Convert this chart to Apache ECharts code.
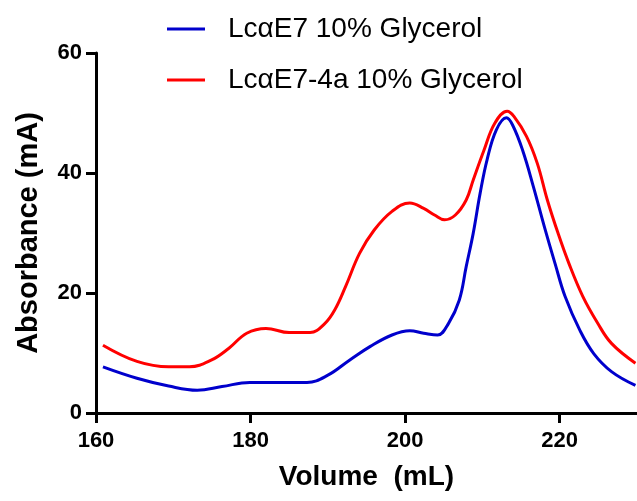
<!DOCTYPE html>
<html>
<head>
<meta charset="utf-8">
<script src="https://cdn.jsdelivr.net/npm/echarts@6/dist/echarts.min.js"></script>
<style>
  html, body { margin: 0; padding: 0; background: #fff; }
  #chart { width: 637px; height: 501px; }
</style>
</head>
<body>
<div id="chart"></div>
<script>
// Elution profiles (absorbance vs. elution volume)
const seriesNames = ['Lc\u03b1E7 10% Glycerol', 'Lc\u03b1E7-4a 10% Glycerol'];

const volumeE7 = [160.9, 165.3, 169.4, 173.1, 176.3, 179.9, 183.6, 187.3, 190.0, 192.8,
  195.5, 198.3, 200.6, 202.4, 204.2, 205.6, 207.0, 207.9, 208.8, 209.7, 210.6, 211.8,
  213.1, 213.9, 215.2, 216.6, 218.0, 219.4, 220.7, 222.6, 224.4, 226.7, 229.8];
const absE7 = [7.7, 5.8, 4.5, 3.8, 4.4, 5.1, 5.1, 5.1, 6.3, 8.8,
  11.1, 13.0, 13.7, 13.3, 13.0, 14.9, 18.8, 24.4, 29.9, 36.6, 42.2, 47.2,
  49.2, 48.0, 43.8, 37.7, 31.1, 24.9, 19.4, 13.8, 9.9, 6.9, 4.6];

const volume4a = [160.9, 165.3, 169.4, 172.1, 174.9, 177.2, 179.5, 182.0, 185.0, 187.7,
  189.6, 190.9, 192.3, 194.1, 196.0, 198.3, 200.6, 202.4, 203.8, 205.1, 206.5, 207.9,
  208.8, 210.2, 211.6, 213.2, 214.1, 215.7, 217.1, 218.4, 219.8, 221.2, 223.0, 224.9,
  226.7, 229.8];
const abs4a = [11.3, 8.6, 7.7, 7.7, 8.8, 10.8, 13.3, 14.1, 13.4, 13.4,
  14.9, 17.2, 21.1, 26.6, 30.5, 33.6, 35.0, 34.1, 33.0, 32.2, 33.0, 35.5,
  38.8, 43.8, 48.3, 50.3, 49.4, 46.1, 41.6, 35.5, 29.9, 24.9, 19.4, 15.0,
  11.6, 8.3];

const xTicks = { min: 160, max: 230, interval: 20 };
const yTicks = { min: 0, max: 60, interval: 20 };

const pair = (xs, ys) => xs.map((x, i) => [x, ys[i]]);

const axisFont = 'Arial, "Liberation Sans", sans-serif';
const axisLineStyle = { color: '#000', width: 3 };

const chart = echarts.init(document.getElementById('chart'), null, { renderer: 'canvas' });
chart.setOption({
  animation: false,
  backgroundColor: '#fff',
  grid: { left: 96, right: 0, top: 53, bottom: 88, containLabel: false },
  legend: {
    orient: 'vertical',
    left: 162,
    top: 9,
    itemWidth: 38,
    itemHeight: 3,
    itemGap: 21,
    icon: 'rect',
    data: seriesNames,
    textStyle: {
      fontFamily: axisFont,
      fontSize: 28,
      color: '#000',
      lineHeight: 30,
      padding: [0, 0, 0, 18]
    }
  },
  xAxis: {
    type: 'value',
    min: xTicks.min,
    max: xTicks.max,
    interval: xTicks.interval,
    name: 'Volume  (mL)',
    nameLocation: 'middle',
    nameGap: 50,
    nameTextStyle: { fontFamily: axisFont, fontSize: 28, fontWeight: 'bold', color: '#000' },
    axisLine: { onZero: false, lineStyle: axisLineStyle },
    axisTick: { length: 10, lineStyle: axisLineStyle },
    axisLabel: {
      fontFamily: axisFont, fontSize: 22, fontWeight: 'bold', color: '#000', margin: 17,
      showMaxLabel: false
    },
    splitLine: { show: false }
  },
  yAxis: {
    type: 'value',
    min: yTicks.min,
    max: yTicks.max,
    interval: yTicks.interval,
    name: 'Absorbance (mA)',
    nameLocation: 'middle',
    nameGap: 53,
    nameTextStyle: { fontFamily: axisFont, fontSize: 29, fontWeight: 'bold', color: '#000' },
    axisLine: { show: true, lineStyle: axisLineStyle },
    axisTick: { show: true, length: 10, lineStyle: axisLineStyle },
    axisLabel: { fontFamily: axisFont, fontSize: 22, fontWeight: 'bold', color: '#000', margin: 14 },
    splitLine: { show: false }
  },
  series: [
    {
      name: seriesNames[0],
      type: 'line',
      data: pair(volumeE7, absE7),
      smooth: 0.4,
      symbol: 'none',
      color: '#0000cc',
      lineStyle: { width: 3, color: '#0000cc' }
    },
    {
      name: seriesNames[1],
      type: 'line',
      data: pair(volume4a, abs4a),
      smooth: 0.4,
      symbol: 'none',
      color: '#ff0000',
      lineStyle: { width: 3, color: '#ff0000' }
    }
  ]
});
</script>
</body>
</html>
